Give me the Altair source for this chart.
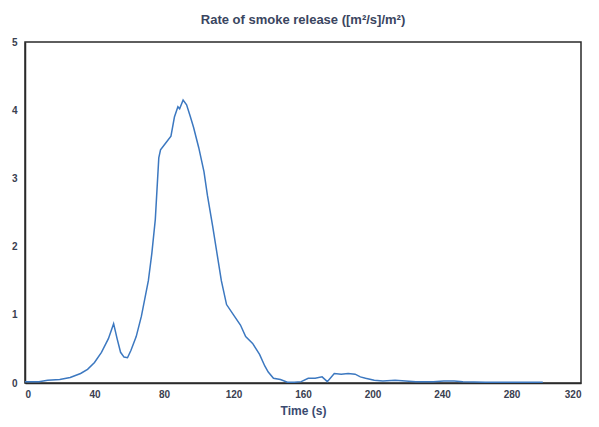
import altair as alt
import pandas as pd

# time (s) and smoke release rate
times = [0, 8, 13, 20, 26, 32, 36, 40, 44, 48, 51, 53, 55, 57, 59, 61, 64, 67,
         71, 73, 75, 77, 78, 81, 84, 86, 88, 89, 91, 93, 95, 97, 100, 103, 105,
         108, 113, 116, 120, 124, 127, 131, 135, 138, 140, 143, 147, 151, 155,
         159, 163, 167, 171, 174, 178, 182, 186, 190, 193, 196, 201, 206, 213,
         225, 235, 241, 247, 252, 265, 280, 298]
rate = [0.02, 0.02, 0.04, 0.05, 0.08, 0.14, 0.2, 0.3, 0.45, 0.65, 0.87, 0.65,
        0.45, 0.38, 0.37, 0.48, 0.68, 0.98, 1.5, 1.9, 2.4, 3.3, 3.42, 3.52,
        3.62, 3.9, 4.05, 4.02, 4.15, 4.08, 3.92, 3.75, 3.45, 3.1, 2.75, 2.3,
        1.5, 1.15, 1.0, 0.85, 0.68, 0.58, 0.42, 0.25, 0.16, 0.07, 0.05, 0.01,
        0.01, 0.02, 0.07, 0.07, 0.09, 0.02, 0.14, 0.13, 0.14, 0.13, 0.09, 0.07,
        0.04, 0.03, 0.04, 0.02, 0.02, 0.03, 0.03, 0.02, 0.01, 0.01, 0.01]

x_ticks = [0, 40, 80, 120, 160, 200, 240, 280, 320]
y_ticks = [0, 1, 2, 3, 4, 5]

df = pd.DataFrame({'t': times, 'v': rate})

chart = alt.Chart(df).mark_line(color='#3c78c0', strokeWidth=1.5).encode(
    x=alt.X('t:Q',
            scale=alt.Scale(domain=[0, 320], nice=False),
            axis=alt.Axis(title='Time (s)', values=x_ticks, grid=False,
                          ticks=False, labelPadding=6, titlePadding=6)),
    y=alt.Y('v:Q',
            scale=alt.Scale(domain=[0, 5], nice=False),
            axis=alt.Axis(title=None, values=y_ticks, grid=False,
                          ticks=False, labelPadding=8))
).properties(
    title='Rate of smoke release ([m²/s]/m²)',
    width=556,
    height=341,
    autosize=alt.AutoSizeParams(type='none'),
    padding={'left': 17, 'top': 34, 'right': 10, 'bottom': 35}
).configure_view(
    stroke='#2a2a2a', strokeWidth=1.5
).configure_axis(
    domainColor='#2a2a2a', domainWidth=1.5,
    labelFont='Liberation Sans', labelFontSize=10, labelColor='#3a4050',
    labelFontWeight='bold',
    titleFont='Liberation Sans', titleFontSize=12, titleColor='#3a4a70',
    titleFontWeight='bold'
).configure_title(
    font='Liberation Sans', fontSize=13, color='#3a4560', fontWeight='bold',
    anchor='middle', offset=10
)

chart.save("out.html", embed_options={"renderer": "svg", "actions": False})
